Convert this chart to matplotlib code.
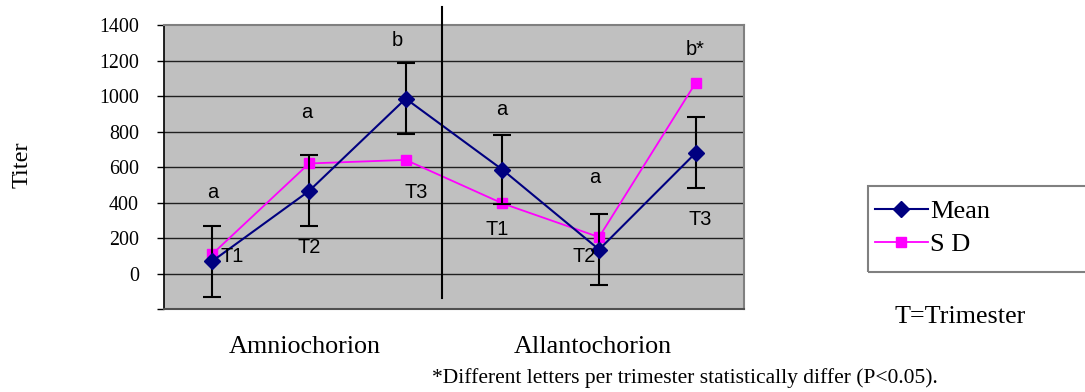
import matplotlib
matplotlib.use("Agg")
import matplotlib.pyplot as plt
import matplotlib.transforms as mtransforms
from matplotlib.patches import Rectangle
import numpy as np

# data
trimesters = ["T1", "T2", "T3", "T1", "T2", "T3"]
groups = ["Amniochorion", "Allantochorion"]
mean = [70, 465, 985, 585, 135, 680]
mean_err = [200, 200, 200, 195, 200, 200]
sd = [110, 620, 640, 395, 205, 1075]
letters = ["a", "a", "b", "a", "a", "b*"]

# label layout (data units)
letter_y = [455, 905, 1315, 925, 540, 1262]
letter_dx = [0.0, -0.02, -0.09, -0.01, -0.04, -0.01]
tlabel_y = [95, 146, 455, 247, 96, 303]
tlabel_dx = [0.2, 0.0, 0.11, -0.05, -0.15, 0.05]

serif = "Liberation Serif"
sans = "Liberation Sans"

fig = plt.figure(figsize=(10.85, 3.92), dpi=100)
ax = fig.add_axes([0.1512, 0.2117, 0.5346, 0.7245])
ax.set_facecolor("#C0C0C0")

x = np.arange(len(mean)) + 0.5
ax.set_xlim(0, len(mean))
ax.set_ylim(-200, 1400)

yt = np.arange(-200, 1401, 200)
ax.set_yticks(yt)
ax.set_yticklabels(["" if v < 0 else str(v) for v in yt], fontfamily=serif, fontsize=14.4)
ax.tick_params(axis="y", length=5, width=1, color="black", pad=13)
ax.set_xticks([])
for v in yt[1:-1]:
    ax.axhline(v, color="#202020", lw=1, zorder=1)

for s in ["top", "right"]:
    ax.spines[s].set_color("#808080")
    ax.spines[s].set_linewidth(1.5)
ax.spines["bottom"].set_color("#505050")
ax.spines["bottom"].set_linewidth(1.5)
ax.spines["left"].set_color("black")
ax.spines["left"].set_linewidth(1.2)

# series
ax.plot(x, sd, color="#FF00FF", lw=1.3, marker="s", ms=7, zorder=3, label="S D")
ax.errorbar(x, mean, yerr=mean_err, fmt="none", ecolor="black", elinewidth=1.5,
            capsize=6.5, capthick=1.5, zorder=4)
ax.plot(x, mean, color="#000080", lw=1.5, marker="D", ms=8, zorder=5, label="Mean")

# significance letters and trimester labels
for i in range(len(x)):
    ax.text(x[i] + letter_dx[i], letter_y[i], letters[i], ha="center", va="center",
            fontfamily=sans, fontsize=14.4, zorder=6)
    ax.text(x[i] + tlabel_dx[i], tlabel_y[i], trimesters[i], ha="center", va="center",
            fontfamily=sans, fontsize=14.4, zorder=6)

# divider between the two membranes
ax.axvline(2.875, ymin=0.0375, ymax=1.0625, color="black", lw=1.5, clip_on=False, zorder=6)

trans = mtransforms.blended_transform_factory(ax.transData, ax.transAxes)
for gx, g in zip([1.46, 4.44], groups):
    ax.text(gx, -0.134, g, transform=trans, ha="center", va="center",
            fontfamily=serif, fontsize=18.8)

fig.text(0.0203, 0.579, "Titer", rotation=90, ha="center", va="center",
         fontfamily=serif, fontsize=17.5)
fig.text(0.885, 0.191, "T=Trimester", ha="center", va="center",
         fontfamily=serif, fontsize=18.8)
fig.text(0.398, 0.036, "*Different letters per trimester statistically differ (P<0.05).",
         ha="left", va="center", fontfamily=serif, fontsize=15.5)

# legend (entries) plus its box, which runs off the right edge like the original
handles, labels = ax.get_legend_handles_labels()
fig.legend(handles[::-1], labels[::-1], loc="upper left",
           bbox_to_anchor=(0.8065, 0.4911), prop={"family": serif, "size": 19},
           frameon=False, borderpad=0, labelspacing=0.38,
           handlelength=2.0, handletextpad=0.1, borderaxespad=0)
fig.add_artist(Rectangle((0.8, 1 - 272 / 392), 0.21, 86 / 392, transform=fig.transFigure,
                         fill=False, edgecolor="#808080", lw=1.5))

fig.savefig("out.png", dpi=100)
